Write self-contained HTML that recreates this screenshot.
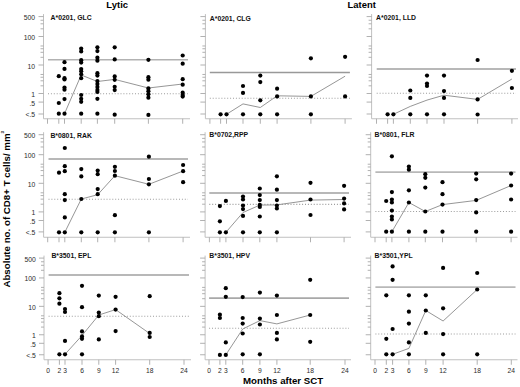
<!DOCTYPE html>
<html><head><meta charset="utf-8"><style>
html,body{margin:0;padding:0;background:#fff;}
body{width:520px;height:387px;overflow:hidden;}
svg{display:block;}
text{font-family:"Liberation Sans", sans-serif;}
.pt{font-size:6.85px;font-weight:bold;fill:#111;}
.yl{font-size:6.8px;fill:#2a2a2a;text-anchor:end;}
.xl{font-size:6.7px;fill:#2a2a2a;text-anchor:middle;}
.hd{font-size:9.7px;font-weight:bold;fill:#000;}
.ax{font-size:9.7px;font-weight:bold;fill:#000;}
</style></head><body>
<svg width="520" height="387" viewBox="0 0 520 387">
<rect width="520" height="387" fill="#fff"/>
<text x="106.3" y="7.5" class="hd" textLength="21.8" lengthAdjust="spacingAndGlyphs">Lytic</text>
<text x="347.6" y="7.5" class="hd" textLength="28.3" lengthAdjust="spacingAndGlyphs">Latent</text>
<text x="243" y="384" class="ax">Months after SCT</text>
<text transform="translate(9.6 287.6) rotate(-90)" class="ax" style="font-size:9.8px" textLength="154.2" lengthAdjust="spacingAndGlyphs">Absolute no. of CD8+ T cells/ mm</text>
<text transform="translate(3.9 133.5) rotate(-90)" class="ax" style="font-size:4.4px">3</text>
<path d="M43.5 14.08V118.75H190" fill="none" stroke="#c0c0c0" stroke-width="1"/>
<path d="M38.5 16.58H43.5M38.5 36.5H43.5M38.5 65H43.5M38.5 93.5H43.5M38.5 102.08H43.5M40.5 28.82H43.5M40.5 23.8H43.5M40.5 20.24H43.5M40.5 57.32H43.5M40.5 52.3H43.5M40.5 48.74H43.5M40.5 45.98H43.5M40.5 85.82H43.5M40.5 80.8H43.5M40.5 77.24H43.5M40.5 74.48H43.5M38.5 114H43.5" stroke="#a8a8a8" stroke-width="0.9"/>
<path d="M47.5 118.75V123.75M58.8 118.75V123.75M64.5 118.75V123.75M81.2 118.75V123.75M97.4 118.75V123.75M114.7 118.75V123.75M148.4 118.75V123.75M182.7 118.75V123.75" stroke="#a8a8a8" stroke-width="0.9"/>
<path d="M48 59.8H188" stroke="#b2b2b2" stroke-width="1.4"/>
<path d="M48 93.8H188" stroke="#9c9c9c" stroke-width="1.1" stroke-dasharray="1 1.9"/>
<path d="M64.5 113.7L81.2 75L97.4 81.5L114.7 79.4L148.4 88L182.7 84" fill="none" stroke="#8a8a8a" stroke-width="0.9"/>
<circle cx="58.8" cy="76.2" r="2.1"/>
<circle cx="58.8" cy="103" r="2.1"/>
<circle cx="58.8" cy="113.7" r="2.1"/>
<circle cx="64.5" cy="62.2" r="2.1"/>
<circle cx="64.5" cy="68.9" r="2.1"/>
<circle cx="64.5" cy="78.2" r="2.1"/>
<circle cx="64.5" cy="79.5" r="2.1"/>
<circle cx="64.5" cy="87.5" r="2.1"/>
<circle cx="64.5" cy="89.7" r="2.1"/>
<circle cx="64.5" cy="99.1" r="2.1"/>
<circle cx="64.5" cy="113.7" r="2.1"/>
<circle cx="81.2" cy="48.6" r="2.1"/>
<circle cx="81.2" cy="51.4" r="2.1"/>
<circle cx="81.2" cy="60.2" r="2.1"/>
<circle cx="81.2" cy="62.6" r="2.1"/>
<circle cx="81.2" cy="69.1" r="2.1"/>
<circle cx="81.2" cy="71.3" r="2.1"/>
<circle cx="81.2" cy="74.3" r="2.1"/>
<circle cx="81.2" cy="78.2" r="2.1"/>
<circle cx="81.2" cy="95" r="2.1"/>
<circle cx="81.2" cy="98.8" r="2.1"/>
<circle cx="81.2" cy="101.8" r="2.1"/>
<circle cx="81.2" cy="113.7" r="2.1"/>
<circle cx="97.4" cy="47.3" r="2.1"/>
<circle cx="97.4" cy="51.1" r="2.1"/>
<circle cx="97.4" cy="57.7" r="2.1"/>
<circle cx="97.4" cy="60.7" r="2.1"/>
<circle cx="97.4" cy="73.2" r="2.1"/>
<circle cx="97.4" cy="75.6" r="2.1"/>
<circle cx="97.4" cy="81" r="2.1"/>
<circle cx="97.4" cy="83.9" r="2.1"/>
<circle cx="97.4" cy="86.9" r="2.1"/>
<circle cx="97.4" cy="89.9" r="2.1"/>
<circle cx="97.4" cy="92" r="2.1"/>
<circle cx="97.4" cy="98.8" r="2.1"/>
<circle cx="97.4" cy="113.7" r="2.1"/>
<circle cx="114.7" cy="47.3" r="2.1"/>
<circle cx="114.7" cy="59.4" r="2.1"/>
<circle cx="114.7" cy="76.4" r="2.1"/>
<circle cx="114.7" cy="79.8" r="2.1"/>
<circle cx="114.7" cy="86.8" r="2.1"/>
<circle cx="114.7" cy="90.1" r="2.1"/>
<circle cx="114.7" cy="114.7" r="2.1"/>
<circle cx="148.4" cy="59.8" r="2.1"/>
<circle cx="148.4" cy="77.2" r="2.1"/>
<circle cx="148.4" cy="79.7" r="2.1"/>
<circle cx="148.4" cy="88.4" r="2.1"/>
<circle cx="148.4" cy="91.2" r="2.1"/>
<circle cx="148.4" cy="94.3" r="2.1"/>
<circle cx="148.4" cy="97.7" r="2.1"/>
<circle cx="148.4" cy="114.9" r="2.1"/>
<circle cx="182.7" cy="55.5" r="2.1"/>
<circle cx="182.7" cy="63.7" r="2.1"/>
<circle cx="182.7" cy="79.2" r="2.1"/>
<circle cx="182.7" cy="84.7" r="2.1"/>
<circle cx="182.7" cy="92.7" r="2.1"/>
<circle cx="182.7" cy="95" r="2.1"/>
<circle cx="182.7" cy="96.6" r="2.1"/>
<text x="50.6" y="20.25" class="pt">A*0201, GLC</text>
<text x="35.1" y="20.08" class="yl">500</text>
<text x="35.1" y="40" class="yl">100</text>
<text x="35.1" y="68.5" class="yl">10</text>
<text x="35.1" y="97" class="yl">1</text>
<text x="35.1" y="105.58" class="yl">.5</text>
<text x="35.1" y="117.3" class="yl">&lt;.5</text>
<path d="M205.4 14.08V118.75H351.9" fill="none" stroke="#c0c0c0" stroke-width="1"/>
<path d="M200.4 16.58H205.4M200.4 36.5H205.4M200.4 65H205.4M200.4 93.5H205.4M200.4 102.08H205.4M202.4 28.82H205.4M202.4 23.8H205.4M202.4 20.24H205.4M202.4 57.32H205.4M202.4 52.3H205.4M202.4 48.74H205.4M202.4 45.98H205.4M202.4 85.82H205.4M202.4 80.8H205.4M202.4 77.24H205.4M202.4 74.48H205.4M200.4 114H205.4" stroke="#a8a8a8" stroke-width="0.9"/>
<path d="M209.9 118.75V123.75M220.6 118.75V123.75M226.5 118.75V123.75M243 118.75V123.75M260.3 118.75V123.75M277.1 118.75V123.75M310.9 118.75V123.75M345.1 118.75V123.75" stroke="#a8a8a8" stroke-width="0.9"/>
<path d="M209.8 72.4H349.9" stroke="#999999" stroke-width="1.5"/>
<path d="M209.8 98.2H349.9" stroke="#9c9c9c" stroke-width="1.1" stroke-dasharray="1 1.9"/>
<path d="M226.5 114.3L243 103.9L260.3 107.5L277.1 95.8L310.9 96.4L345.1 76.2" fill="none" stroke="#8a8a8a" stroke-width="0.9"/>
<circle cx="220.6" cy="114.3" r="2.1"/>
<circle cx="226.5" cy="114.3" r="2.1"/>
<circle cx="243" cy="86" r="2.1"/>
<circle cx="243" cy="92.9" r="2.1"/>
<circle cx="243" cy="114.3" r="2.1"/>
<circle cx="260.3" cy="75.6" r="2.1"/>
<circle cx="260.3" cy="82.1" r="2.1"/>
<circle cx="260.3" cy="100.3" r="2.1"/>
<circle cx="260.3" cy="114.3" r="2.1"/>
<circle cx="277.1" cy="88.7" r="2.1"/>
<circle cx="277.1" cy="96.4" r="2.1"/>
<circle cx="277.1" cy="114.3" r="2.1"/>
<circle cx="310.9" cy="58.3" r="2.1"/>
<circle cx="310.9" cy="96.4" r="2.1"/>
<circle cx="310.9" cy="114.3" r="2.1"/>
<circle cx="345.1" cy="56.8" r="2.1"/>
<circle cx="345.1" cy="96.4" r="2.1"/>
<text x="209.8" y="20.5" class="pt">A*0201, CLG</text>
<path d="M371.6 14.08V118.75H518" fill="none" stroke="#c0c0c0" stroke-width="1"/>
<path d="M366.6 16.58H371.6M366.6 36.5H371.6M366.6 65H371.6M366.6 93.5H371.6M366.6 102.08H371.6M368.6 28.82H371.6M368.6 23.8H371.6M368.6 20.24H371.6M368.6 57.32H371.6M368.6 52.3H371.6M368.6 48.74H371.6M368.6 45.98H371.6M368.6 85.82H371.6M368.6 80.8H371.6M368.6 77.24H371.6M368.6 74.48H371.6M366.6 114H371.6" stroke="#a8a8a8" stroke-width="0.9"/>
<path d="M376.5 118.75V123.75M387.6 118.75V123.75M393.4 118.75V123.75M410.3 118.75V123.75M427 118.75V123.75M444 118.75V123.75M477.6 118.75V123.75M511.9 118.75V123.75" stroke="#a8a8a8" stroke-width="0.9"/>
<path d="M376.7 69H516" stroke="#b8b8b8" stroke-width="1.9"/>
<path d="M376.7 93.2H516" stroke="#9c9c9c" stroke-width="1.1" stroke-dasharray="1 1.9"/>
<path d="M393.4 114.3L410.3 106.4L427 100.1L444 95.2L477.6 99.4L511.9 79" fill="none" stroke="#8a8a8a" stroke-width="0.9"/>
<circle cx="387.6" cy="114.3" r="2.1"/>
<circle cx="393.4" cy="114.3" r="2.1"/>
<circle cx="410.3" cy="90.5" r="2.1"/>
<circle cx="410.3" cy="97.9" r="2.1"/>
<circle cx="410.3" cy="114.3" r="2.1"/>
<circle cx="427" cy="75.6" r="2.1"/>
<circle cx="427" cy="83.6" r="2.1"/>
<circle cx="427" cy="86" r="2.1"/>
<circle cx="427" cy="114.3" r="2.1"/>
<circle cx="444" cy="75.6" r="2.1"/>
<circle cx="444" cy="91.1" r="2.1"/>
<circle cx="444" cy="97.9" r="2.1"/>
<circle cx="444" cy="114.3" r="2.1"/>
<circle cx="477.6" cy="60" r="2.1"/>
<circle cx="477.6" cy="99.4" r="2.1"/>
<circle cx="477.6" cy="114.5" r="2.1"/>
<circle cx="511.9" cy="70.8" r="2.1"/>
<circle cx="511.9" cy="88" r="2.1"/>
<text x="376.1" y="19.9" class="pt">A*0201, LLD</text>
<path d="M43.6 132.21V237.25H190" fill="none" stroke="#c0c0c0" stroke-width="1"/>
<path d="M38.6 134.71H43.6M38.6 154.7H43.6M38.6 183.3H43.6M38.6 211.9H43.6M38.6 220.51H43.6M40.6 146.99H43.6M40.6 141.95H43.6M40.6 138.38H43.6M40.6 175.59H43.6M40.6 170.55H43.6M40.6 166.98H43.6M40.6 164.21H43.6M40.6 204.19H43.6M40.6 199.15H43.6M40.6 195.58H43.6M40.6 192.81H43.6M38.6 231.9H43.6" stroke="#a8a8a8" stroke-width="0.9"/>
<path d="M47.7 237.25V242.25M59 237.25V242.25M64.8 237.25V242.25M81.3 237.25V242.25M97.7 237.25V242.25M114.9 237.25V242.25M148.9 237.25V242.25M183.1 237.25V242.25" stroke="#a8a8a8" stroke-width="0.9"/>
<path d="M48.5 159H188" stroke="#b8b8b8" stroke-width="1.9"/>
<path d="M48.5 199.2H188" stroke="#9c9c9c" stroke-width="1.1" stroke-dasharray="1 1.9"/>
<path d="M64.8 232.3L81.3 199L97.7 194.7L114.9 175.7L148.9 184.3L183.1 171" fill="none" stroke="#8a8a8a" stroke-width="0.9"/>
<circle cx="59" cy="172.7" r="2.1"/>
<circle cx="59" cy="232.3" r="2.1"/>
<circle cx="64.8" cy="148" r="2.1"/>
<circle cx="64.8" cy="166.2" r="2.1"/>
<circle cx="64.8" cy="171.2" r="2.1"/>
<circle cx="64.8" cy="194.2" r="2.1"/>
<circle cx="64.8" cy="200.1" r="2.1"/>
<circle cx="64.8" cy="217.4" r="2.1"/>
<circle cx="64.8" cy="232.3" r="2.1"/>
<circle cx="81.3" cy="169.1" r="2.1"/>
<circle cx="81.3" cy="176.4" r="2.1"/>
<circle cx="81.3" cy="199" r="2.1"/>
<circle cx="81.3" cy="232.3" r="2.1"/>
<circle cx="97.7" cy="170.6" r="2.1"/>
<circle cx="97.7" cy="174.2" r="2.1"/>
<circle cx="97.7" cy="189.1" r="2.1"/>
<circle cx="97.7" cy="194.2" r="2.1"/>
<circle cx="97.7" cy="232.3" r="2.1"/>
<circle cx="114.9" cy="166.8" r="2.1"/>
<circle cx="114.9" cy="171" r="2.1"/>
<circle cx="114.9" cy="175.7" r="2.1"/>
<circle cx="114.9" cy="215.2" r="2.1"/>
<circle cx="114.9" cy="232.3" r="2.1"/>
<circle cx="148.9" cy="156.7" r="2.1"/>
<circle cx="148.9" cy="179" r="2.1"/>
<circle cx="148.9" cy="184.3" r="2.1"/>
<circle cx="148.9" cy="232.3" r="2.1"/>
<circle cx="183.1" cy="165" r="2.1"/>
<circle cx="183.1" cy="171.2" r="2.1"/>
<circle cx="183.1" cy="182.2" r="2.1"/>
<text x="50.4" y="137.5" class="pt">B*0801, RAK</text>
<text x="35.3" y="138.21" class="yl">500</text>
<text x="35.3" y="158.2" class="yl">100</text>
<text x="35.3" y="186.8" class="yl">10</text>
<text x="35.3" y="215.4" class="yl">1</text>
<text x="35.3" y="224.01" class="yl">.5</text>
<text x="35.3" y="235.2" class="yl">&lt;.5</text>
<path d="M205.1 132.21V237.25H351" fill="none" stroke="#c0c0c0" stroke-width="1"/>
<path d="M200.1 134.71H205.1M200.1 154.7H205.1M200.1 183.3H205.1M200.1 211.9H205.1M200.1 220.51H205.1M202.1 146.99H205.1M202.1 141.95H205.1M202.1 138.38H205.1M202.1 175.59H205.1M202.1 170.55H205.1M202.1 166.98H205.1M202.1 164.21H205.1M202.1 204.19H205.1M202.1 199.15H205.1M202.1 195.58H205.1M202.1 192.81H205.1M200.1 231.9H205.1" stroke="#a8a8a8" stroke-width="0.9"/>
<path d="M209.4 237.25V242.25M219.9 237.25V242.25M225.9 237.25V242.25M243 237.25V242.25M259.8 237.25V242.25M276.9 237.25V242.25M310.5 237.25V242.25M344.1 237.25V242.25" stroke="#a8a8a8" stroke-width="0.9"/>
<path d="M209.3 193H349" stroke="#b8b8b8" stroke-width="1.9"/>
<path d="M209.3 204.4H349" stroke="#9c9c9c" stroke-width="1.1" stroke-dasharray="1 1.9"/>
<path d="M225.9 232.3L243 212.5L259.8 205.1L276.9 204.9L310.5 200.1L344.1 199.5" fill="none" stroke="#8a8a8a" stroke-width="0.9"/>
<circle cx="219.9" cy="206.1" r="2.1"/>
<circle cx="219.9" cy="221.3" r="2.1"/>
<circle cx="219.9" cy="232.3" r="2.1"/>
<circle cx="225.9" cy="200.9" r="2.1"/>
<circle cx="225.9" cy="232.3" r="2.1"/>
<circle cx="243" cy="196.6" r="2.1"/>
<circle cx="243" cy="199.5" r="2.1"/>
<circle cx="243" cy="205.5" r="2.1"/>
<circle cx="243" cy="209.1" r="2.1"/>
<circle cx="243" cy="215.9" r="2.1"/>
<circle cx="243" cy="232.3" r="2.1"/>
<circle cx="259.8" cy="188.5" r="2.1"/>
<circle cx="259.8" cy="195.1" r="2.1"/>
<circle cx="259.8" cy="200.1" r="2.1"/>
<circle cx="259.8" cy="204.9" r="2.1"/>
<circle cx="259.8" cy="207" r="2.1"/>
<circle cx="259.8" cy="216.5" r="2.1"/>
<circle cx="259.8" cy="232.3" r="2.1"/>
<circle cx="276.9" cy="176.3" r="2.1"/>
<circle cx="276.9" cy="189.7" r="2.1"/>
<circle cx="276.9" cy="200.1" r="2.1"/>
<circle cx="276.9" cy="205.5" r="2.1"/>
<circle cx="276.9" cy="208.5" r="2.1"/>
<circle cx="276.9" cy="232.3" r="2.1"/>
<circle cx="310.5" cy="182.8" r="2.1"/>
<circle cx="310.5" cy="199.5" r="2.1"/>
<circle cx="310.5" cy="215" r="2.1"/>
<circle cx="344.1" cy="185.8" r="2.1"/>
<circle cx="344.1" cy="198.6" r="2.1"/>
<circle cx="344.1" cy="203.4" r="2.1"/>
<circle cx="344.1" cy="209.4" r="2.1"/>
<text x="209.3" y="137.3" class="pt">B*0702,RPP</text>
<path d="M370.7 132.21V237.25H517.5" fill="none" stroke="#c0c0c0" stroke-width="1"/>
<path d="M365.7 134.71H370.7M365.7 154.7H370.7M365.7 183.3H370.7M365.7 211.9H370.7M365.7 220.51H370.7M367.7 146.99H370.7M367.7 141.95H370.7M367.7 138.38H370.7M367.7 175.59H370.7M367.7 170.55H370.7M367.7 166.98H370.7M367.7 164.21H370.7M367.7 204.19H370.7M367.7 199.15H370.7M367.7 195.58H370.7M367.7 192.81H370.7M365.7 231.9H370.7" stroke="#a8a8a8" stroke-width="0.9"/>
<path d="M375 237.25V242.25M386.2 237.25V242.25M391.9 237.25V242.25M408.9 237.25V242.25M425.3 237.25V242.25M442.5 237.25V242.25M476.2 237.25V242.25M511.1 237.25V242.25" stroke="#a8a8a8" stroke-width="0.9"/>
<path d="M375.4 172.1H515.5" stroke="#b8b8b8" stroke-width="1.9"/>
<path d="M375.4 211.5H515.5" stroke="#9c9c9c" stroke-width="1.1" stroke-dasharray="1 1.9"/>
<path d="M391.9 231.7L408.9 202.5L425.3 211.5L442.5 204.6L476.2 200.4L511.1 185.5" fill="none" stroke="#8a8a8a" stroke-width="0.9"/>
<circle cx="386.2" cy="201" r="2.1"/>
<circle cx="386.2" cy="231.7" r="2.1"/>
<circle cx="391.9" cy="156.3" r="2.1"/>
<circle cx="391.9" cy="192.1" r="2.1"/>
<circle cx="391.9" cy="199.5" r="2.1"/>
<circle cx="391.9" cy="202.5" r="2.1"/>
<circle cx="391.9" cy="210.6" r="2.1"/>
<circle cx="391.9" cy="216.5" r="2.1"/>
<circle cx="391.9" cy="219.5" r="2.1"/>
<circle cx="391.9" cy="231.7" r="2.1"/>
<circle cx="408.9" cy="166.6" r="2.1"/>
<circle cx="408.9" cy="169.7" r="2.1"/>
<circle cx="408.9" cy="190.3" r="2.1"/>
<circle cx="408.9" cy="202.5" r="2.1"/>
<circle cx="408.9" cy="231.7" r="2.1"/>
<circle cx="425.3" cy="174.2" r="2.1"/>
<circle cx="425.3" cy="177.8" r="2.1"/>
<circle cx="425.3" cy="187.6" r="2.1"/>
<circle cx="425.3" cy="211.5" r="2.1"/>
<circle cx="425.3" cy="231.7" r="2.1"/>
<circle cx="442.5" cy="182.2" r="2.1"/>
<circle cx="442.5" cy="194.2" r="2.1"/>
<circle cx="442.5" cy="204.6" r="2.1"/>
<circle cx="442.5" cy="231.7" r="2.1"/>
<circle cx="476.2" cy="173.6" r="2.1"/>
<circle cx="476.2" cy="179.3" r="2.1"/>
<circle cx="476.2" cy="200.1" r="2.1"/>
<circle cx="476.2" cy="212.4" r="2.1"/>
<circle cx="476.2" cy="231.7" r="2.1"/>
<circle cx="511.1" cy="173.6" r="2.1"/>
<circle cx="511.1" cy="185.5" r="2.1"/>
<circle cx="511.1" cy="199.5" r="2.1"/>
<circle cx="511.1" cy="231.7" r="2.1"/>
<text x="374.6" y="137.3" class="pt">B*0801, FLR</text>
<path d="M44 255.6V359.75H191" fill="none" stroke="#c0c0c0" stroke-width="1"/>
<path d="M39 258.1H44M39 277.95H44M39 306.35H44M39 334.75H44M39 343.3H44M41 270.3H44M41 265.3H44M41 261.75H44M41 298.7H44M41 293.7H44M41 290.15H44M41 287.4H44M41 327.1H44M41 322.1H44M41 318.55H44M41 315.8H44M39 354.75H44" stroke="#a8a8a8" stroke-width="0.9"/>
<path d="M48.1 359.75V364.75M59.4 359.75V364.75M65 359.75V364.75M82 359.75V364.75M98.8 359.75V364.75M115.6 359.75V364.75M149.7 359.75V364.75M184 359.75V364.75" stroke="#a8a8a8" stroke-width="0.9"/>
<path d="M48.6 275H189" stroke="#b8b8b8" stroke-width="1.9"/>
<path d="M48.6 316.2H189" stroke="#9c9c9c" stroke-width="1.1" stroke-dasharray="1 1.9"/>
<path d="M65 354.3L82 335.5L98.8 315L115.6 309.6L149.7 333.5" fill="none" stroke="#8a8a8a" stroke-width="0.9"/>
<circle cx="59.4" cy="293.2" r="2.1"/>
<circle cx="59.4" cy="298.3" r="2.1"/>
<circle cx="59.4" cy="303.7" r="2.1"/>
<circle cx="59.4" cy="354.3" r="2.1"/>
<circle cx="65" cy="309" r="2.1"/>
<circle cx="65" cy="312" r="2.1"/>
<circle cx="65" cy="340.9" r="2.1"/>
<circle cx="65" cy="354.3" r="2.1"/>
<circle cx="82" cy="285.8" r="2.1"/>
<circle cx="82" cy="307.2" r="2.1"/>
<circle cx="82" cy="331.4" r="2.1"/>
<circle cx="82" cy="336.4" r="2.1"/>
<circle cx="82" cy="338.8" r="2.1"/>
<circle cx="82" cy="354.3" r="2.1"/>
<circle cx="98.8" cy="295.6" r="2.1"/>
<circle cx="98.8" cy="312.6" r="2.1"/>
<circle cx="98.8" cy="316.2" r="2.1"/>
<circle cx="98.8" cy="339.4" r="2.1"/>
<circle cx="115.6" cy="296.8" r="2.1"/>
<circle cx="115.6" cy="309.6" r="2.1"/>
<circle cx="115.6" cy="331.1" r="2.1"/>
<circle cx="149.7" cy="296.2" r="2.1"/>
<circle cx="149.7" cy="332.9" r="2.1"/>
<circle cx="149.7" cy="337" r="2.1"/>
<text x="51.4" y="258.1" class="pt">B*3501, EPL</text>
<text x="35.9" y="261.6" class="yl">500</text>
<text x="35.9" y="281.45" class="yl">100</text>
<text x="35.9" y="309.85" class="yl">10</text>
<text x="35.9" y="338.25" class="yl">1</text>
<text x="35.9" y="346.8" class="yl">.5</text>
<text x="35.9" y="358.05" class="yl">&lt;.5</text>
<text x="48.1" y="372.95" class="xl">0</text>
<text x="59.4" y="372.95" class="xl">2</text>
<text x="65" y="372.95" class="xl">3</text>
<text x="82" y="372.95" class="xl">6</text>
<text x="98.8" y="372.95" class="xl">9</text>
<text x="115.6" y="372.95" class="xl">12</text>
<text x="149.7" y="372.95" class="xl">18</text>
<text x="184" y="372.95" class="xl">24</text>
<path d="M205.1 255.6V359.75H351" fill="none" stroke="#c0c0c0" stroke-width="1"/>
<path d="M200.1 258.1H205.1M200.1 277.95H205.1M200.1 306.35H205.1M200.1 334.75H205.1M200.1 343.3H205.1M202.1 270.3H205.1M202.1 265.3H205.1M202.1 261.75H205.1M202.1 298.7H205.1M202.1 293.7H205.1M202.1 290.15H205.1M202.1 287.4H205.1M202.1 327.1H205.1M202.1 322.1H205.1M202.1 318.55H205.1M202.1 315.8H205.1M200.1 354.75H205.1" stroke="#a8a8a8" stroke-width="0.9"/>
<path d="M209 359.75V364.75M219.9 359.75V364.75M225.8 359.75V364.75M242.7 359.75V364.75M259.9 359.75V364.75M276.9 359.75V364.75M310.2 359.75V364.75M345 359.75V364.75" stroke="#a8a8a8" stroke-width="0.9"/>
<path d="M209.1 298.1H349" stroke="#a8a8a8" stroke-width="1.6"/>
<path d="M209.1 328.2H349" stroke="#9c9c9c" stroke-width="1.1" stroke-dasharray="1 1.9"/>
<path d="M225.8 354.9L242.7 329L259.9 320.6L276.9 323.9L310.2 315" fill="none" stroke="#8a8a8a" stroke-width="0.9"/>
<circle cx="219.9" cy="314.7" r="2.1"/>
<circle cx="219.9" cy="318" r="2.1"/>
<circle cx="219.9" cy="354.9" r="2.1"/>
<circle cx="225.8" cy="288.2" r="2.1"/>
<circle cx="225.8" cy="296.8" r="2.1"/>
<circle cx="225.8" cy="342.4" r="2.1"/>
<circle cx="225.8" cy="354.9" r="2.1"/>
<circle cx="242.7" cy="297.1" r="2.1"/>
<circle cx="242.7" cy="318" r="2.1"/>
<circle cx="242.7" cy="323.6" r="2.1"/>
<circle cx="242.7" cy="333.5" r="2.1"/>
<circle cx="242.7" cy="354.3" r="2.1"/>
<circle cx="259.9" cy="292.6" r="2.1"/>
<circle cx="259.9" cy="318.6" r="2.1"/>
<circle cx="259.9" cy="324.5" r="2.1"/>
<circle cx="259.9" cy="354.3" r="2.1"/>
<circle cx="276.9" cy="295.6" r="2.1"/>
<circle cx="276.9" cy="315" r="2.1"/>
<circle cx="276.9" cy="332.9" r="2.1"/>
<circle cx="276.9" cy="339.4" r="2.1"/>
<circle cx="310.2" cy="279.8" r="2.1"/>
<circle cx="310.2" cy="315" r="2.1"/>
<circle cx="310.2" cy="341.8" r="2.1"/>
<text x="209.3" y="258.1" class="pt">B*3501, HPV</text>
<text x="209" y="372.95" class="xl">0</text>
<text x="219.9" y="372.95" class="xl">2</text>
<text x="225.8" y="372.95" class="xl">3</text>
<text x="242.7" y="372.95" class="xl">6</text>
<text x="259.9" y="372.95" class="xl">9</text>
<text x="276.9" y="372.95" class="xl">12</text>
<text x="310.2" y="372.95" class="xl">18</text>
<text x="345" y="372.95" class="xl">24</text>
<path d="M370.7 255.6V359.75H517.5" fill="none" stroke="#c0c0c0" stroke-width="1"/>
<path d="M365.7 258.1H370.7M365.7 277.95H370.7M365.7 306.35H370.7M365.7 334.75H370.7M365.7 343.3H370.7M367.7 270.3H370.7M367.7 265.3H370.7M367.7 261.75H370.7M367.7 298.7H370.7M367.7 293.7H370.7M367.7 290.15H370.7M367.7 287.4H370.7M367.7 327.1H370.7M367.7 322.1H370.7M367.7 318.55H370.7M367.7 315.8H370.7M365.7 354.75H370.7" stroke="#a8a8a8" stroke-width="0.9"/>
<path d="M375 359.75V364.75M386.3 359.75V364.75M392.6 359.75V364.75M408.9 359.75V364.75M425.8 359.75V364.75M443.1 359.75V364.75M477.2 359.75V364.75M511.3 359.75V364.75" stroke="#a8a8a8" stroke-width="0.9"/>
<path d="M375.4 287.1H515.5" stroke="#b8b8b8" stroke-width="1.9"/>
<path d="M375.4 334H515.5" stroke="#9c9c9c" stroke-width="1.1" stroke-dasharray="1 1.9"/>
<path d="M392.6 354.3L408.9 348.4L425.8 310.5L443.1 321L477.2 289.5" fill="none" stroke="#8a8a8a" stroke-width="0.9"/>
<circle cx="386.3" cy="295.3" r="2.1"/>
<circle cx="386.3" cy="338.8" r="2.1"/>
<circle cx="386.3" cy="354.3" r="2.1"/>
<circle cx="392.6" cy="266.4" r="2.1"/>
<circle cx="392.6" cy="279.8" r="2.1"/>
<circle cx="392.6" cy="329" r="2.1"/>
<circle cx="392.6" cy="354.3" r="2.1"/>
<circle cx="408.9" cy="295.3" r="2.1"/>
<circle cx="408.9" cy="311.7" r="2.1"/>
<circle cx="408.9" cy="323.6" r="2.1"/>
<circle cx="408.9" cy="342.4" r="2.1"/>
<circle cx="408.9" cy="354.3" r="2.1"/>
<circle cx="425.8" cy="295.3" r="2.1"/>
<circle cx="425.8" cy="310.5" r="2.1"/>
<circle cx="425.8" cy="332.9" r="2.1"/>
<circle cx="443.1" cy="267.9" r="2.1"/>
<circle cx="443.1" cy="308.3" r="2.1"/>
<circle cx="443.1" cy="334.1" r="2.1"/>
<circle cx="443.1" cy="354.3" r="2.1"/>
<circle cx="477.2" cy="273" r="2.1"/>
<circle cx="477.2" cy="289.5" r="2.1"/>
<circle cx="477.2" cy="354.3" r="2.1"/>
<text x="374.6" y="258.1" class="pt">B*3501,YPL</text>
<text x="375" y="372.95" class="xl">0</text>
<text x="386.3" y="372.95" class="xl">2</text>
<text x="392.6" y="372.95" class="xl">3</text>
<text x="408.9" y="372.95" class="xl">6</text>
<text x="425.8" y="372.95" class="xl">9</text>
<text x="443.1" y="372.95" class="xl">12</text>
<text x="477.2" y="372.95" class="xl">18</text>
<text x="511.3" y="372.95" class="xl">24</text>
</svg>
</body></html>
